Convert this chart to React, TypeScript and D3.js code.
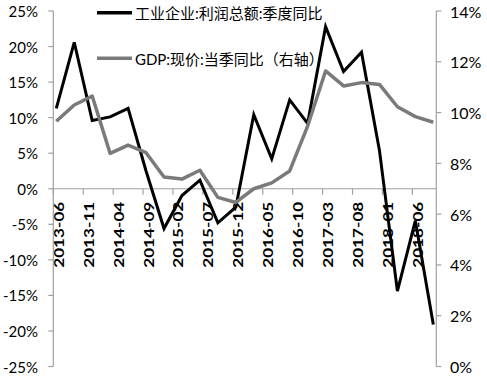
import React from "react";
import * as d3 from "d3";

const quarters = [
  "2013-06","2013-09","2013-12","2014-03","2014-06","2014-09","2014-12",
  "2015-03","2015-06","2015-09","2015-12","2016-03","2016-06","2016-09","2016-12",
  "2017-03","2017-06","2017-09","2017-12","2018-03","2018-06","2018-09",
];
const profit = [11.3, 20.6, 9.6, 10.1, 11.3, 2.5, -5.6, -0.95, 1.2, -4.8, -2.6, 10.4, 4.2, 12.5, 9.2, 22.8, 16.5, 19.2, 5.4, -14.4, -4.5, -19.1];
const gdp = [9.66, 10.3, 10.65, 8.39, 8.72, 8.42, 7.46, 7.38, 7.73, 6.66, 6.46, 7.0, 7.23, 7.7, 9.47, 11.64, 11.05, 11.18, 11.11, 10.23, 9.84, 9.62];
const tickLabels = ["2013-06","2013-11","2014-04","2014-09","2015-02","2015-07","2015-12","2016-05","2016-10","2017-03","2017-08","2018-01","2018-06"];
const leftTicks = [-25, -20, -15, -10, -5, 0, 5, 10, 15, 20, 25];
const rightTicks = [0, 2, 4, 6, 8, 10, 12, 14];
const legendNames = ["工业企业:利润总额:季度同比", "GDP:现价:当季同比（右轴）"];

const W = 487, H = 380;
const L = 53.3, R = 436.3, T = 11, B = 366.5;
const axisColor = "#a0a0a0";
const font = "Lato, 'Noto Sans CJK SC', sans-serif";

export default function App() {
  const start = new Date(2013, 5, 1);
  const monthIdx = (s: string) => {
    const [y, m] = s.split("-").map(Number);
    return d3.timeMonth.count(start, new Date(y, m - 1, 1));
  };
  const xm = d3.scaleLinear().domain([0, 64]).range([L, R]);
  const yl = d3.scaleLinear().domain([-25, 25]).range([B, T]);
  const yr = d3.scaleLinear().domain([0, 14]).range([B, T]);
  const px = (s: string) => xm(monthIdx(s) + 0.5);

  const lineL = d3.line<number>().x((_, i) => px(quarters[i])).y((d) => yl(d));
  const lineR = d3.line<number>().x((_, i) => px(quarters[i])).y((d) => yr(d));
  const y0 = yl(0);

  return (
    <svg width={W} height={H} style={{ position: "absolute", left: 0, top: 0, background: "#fff" }} fontFamily={font}>
      {/* left axis */}
      <line x1={L} x2={L} y1={T} y2={B} stroke={axisColor} strokeWidth={1.2} />
      {leftTicks.map((t) => (
        <g key={"l" + t}>
          <line x1={L - 5} x2={L} y1={yl(t)} y2={yl(t)} stroke={axisColor} strokeWidth={1.2} />
          <text x={38} y={yl(t)} textAnchor="end" dominantBaseline="central" fontSize={15} fill="#000">
            {t + "%"}
          </text>
        </g>
      ))}
      {/* right axis */}
      <line x1={R} x2={R} y1={T} y2={B} stroke={axisColor} strokeWidth={1.2} />
      {rightTicks.map((t) => (
        <g key={"r" + t}>
          <line x1={R} x2={R + 5} y1={yr(t)} y2={yr(t)} stroke={axisColor} strokeWidth={1.2} />
          <text x={450} y={yr(t)} textAnchor="start" dominantBaseline="central" fontSize={16} fill="#000">
            {t + "%"}
          </text>
        </g>
      ))}
      {/* zero line / category axis */}
      <line x1={L} x2={R} y1={y0} y2={y0} stroke={axisColor} strokeWidth={1.2} />
      {tickLabels.map((lab) => {
        const x = xm(monthIdx(lab));
        return (
          <g key={lab}>
            <line x1={x} x2={x} y1={y0} y2={y0 + 6} stroke={axisColor} strokeWidth={1.2} />
            <text
              transform={`translate(${x + 5.5},${y0 + 13}) rotate(-90)`}
              textAnchor="end"
              dominantBaseline="central"
              fontSize={13}
              fontWeight="bold"
              textLength={66}
              lengthAdjust="spacingAndGlyphs"
              fill="#000"
            >
              {lab}
            </text>
          </g>
        );
      })}
      {/* legend */}
      <line x1={97} x2={132} y1={12.7} y2={12.7} stroke="#000" strokeWidth={3.5} />
      <text x={135} y={13} dominantBaseline="central" fontSize={15} fill="#000">{legendNames[0]}</text>
      <line x1={97} x2={132} y1={58.3} y2={58.3} stroke="#7a7a7a" strokeWidth={3.5} />
      <text x={135} y={58.5} dominantBaseline="central" fontSize={15} fill="#000">{legendNames[1]}</text>
      {/* series */}
      <path d={lineL(profit) || ""} fill="none" stroke="#000" strokeWidth={3} strokeLinejoin="miter" />
      <path d={lineR(gdp) || ""} fill="none" stroke="#7a7a7a" strokeWidth={3.5} strokeLinejoin="round" />
    </svg>
  );
}
